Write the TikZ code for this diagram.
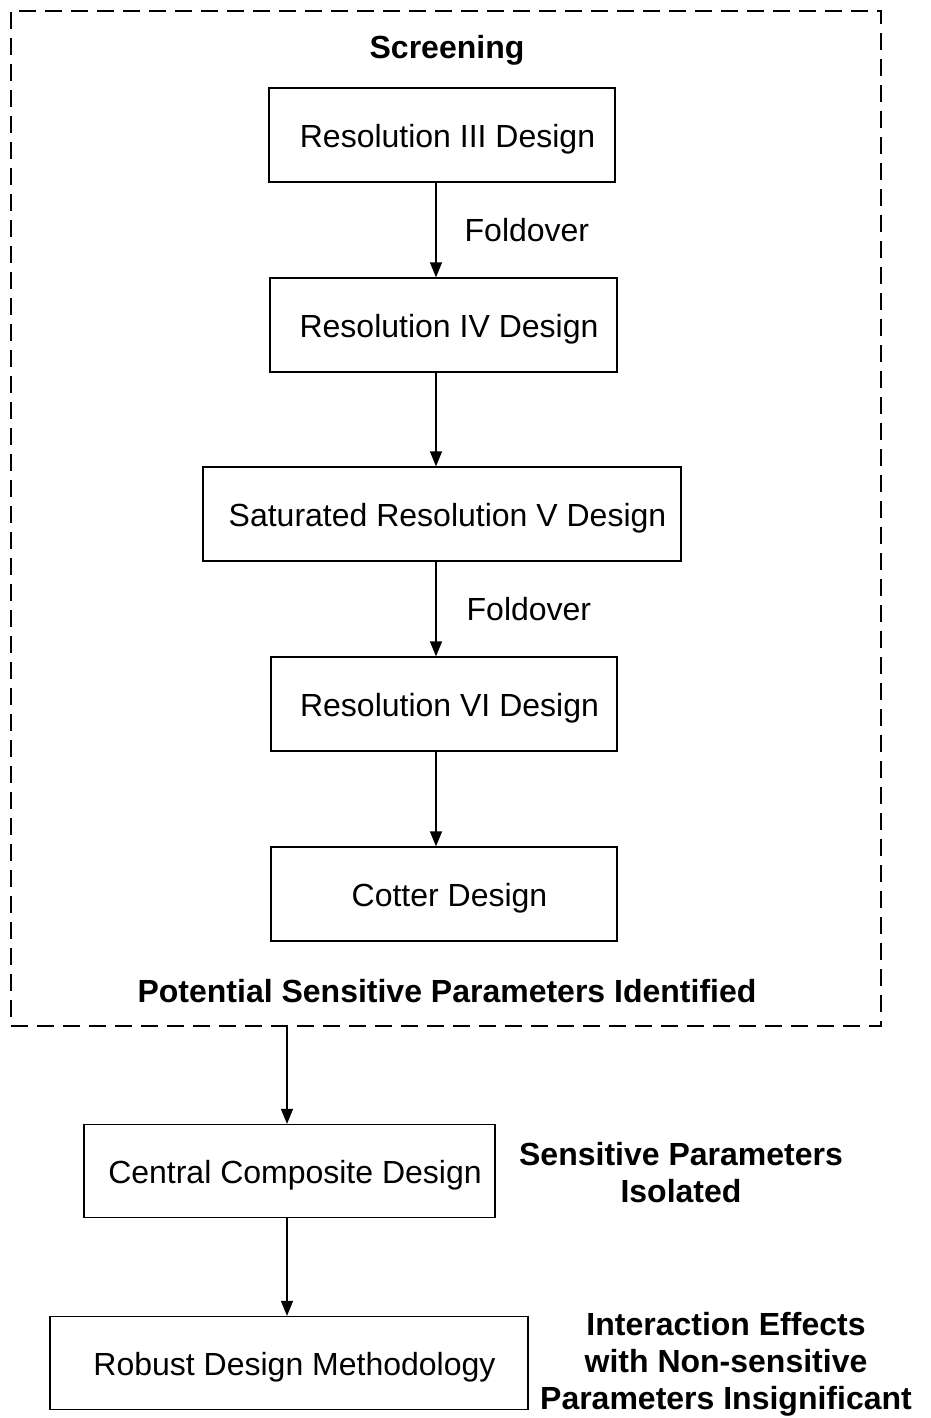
\documentclass[tikz,border=0pt]{standalone}
\usepackage{fontspec}
\setmainfont{Liberation Sans}
\usetikzlibrary{arrows.meta}

\begin{document}
\begin{tikzpicture}[x=1pt,y=-1pt,line width=1.3pt,
  font=\fontsize{32}{37}\selectfont,
  stage/.style={draw,minimum height=94pt,inner sep=0pt,text height=31pt,text depth=7pt,
    execute at begin node=\hspace*{11pt}},
  note/.style={font=\fontsize{32}{37}\selectfont\bfseries,align=center},
  >={Triangle[length=15pt,width=12pt]}]
\useasboundingbox (0,0) rectangle (930,1418);

% screening block
\node[draw,dash pattern=on 17pt off 9pt,minimum width=870pt,minimum height=1015pt] (screen) at (446,518.5) {};
\node[note] (scrtitle) at (447,50) {Screening};

\node[stage,minimum width=346pt] (res3) at (442,135) {Resolution III Design};
\node[stage,minimum width=347pt] (res4) at (443.5,325) {Resolution IV Design};
\node[stage,minimum width=478pt] (res5) at (442,514) {Saturated Resolution V Design};
\node[stage,minimum width=346pt] (res6) at (444,704) {Resolution VI Design};
\node[stage,minimum width=346pt] (cotter) at (444,894) {Cotter Design};
\node[note] (identified) at (447,991) {Potential Sensitive Parameters Identified};

\coordinate (ax) at (436,0);
\draw[->] (res3.south -| ax) -- (res4.north -| ax);
\draw[->] (res4.south -| ax) -- (res5.north -| ax);
\draw[->] (res5.south -| ax) -- (res6.north -| ax);
\draw[->] (res6.south -| ax) -- (cotter.north -| ax);
\node[anchor=west,inner sep=0pt] (fold1) at (464,230) {Foldover};
\node[anchor=west,inner sep=0pt] (fold2) at (466,609) {Foldover};

% after screening
\node[stage,minimum width=411pt,minimum height=93pt] (ccd) at (289.5,1171) {Central Composite Design};
\node[stage,minimum width=478pt,minimum height=93pt] (robust) at (289,1363) {Robust Design Methodology};
\node[note] (isolated) at (681,1173) {Sensitive Parameters\\Isolated};
\node[note] (insig) at (726,1364) {Interaction Effects\\with Non-sensitive\\Parameters Insignificant};

\coordinate (bx) at (287,0);
\draw[->] (screen.south -| bx) -- (ccd.north -| bx);
\draw[->] (ccd.south -| bx) -- (robust.north -| bx);
\end{tikzpicture}
\end{document}
